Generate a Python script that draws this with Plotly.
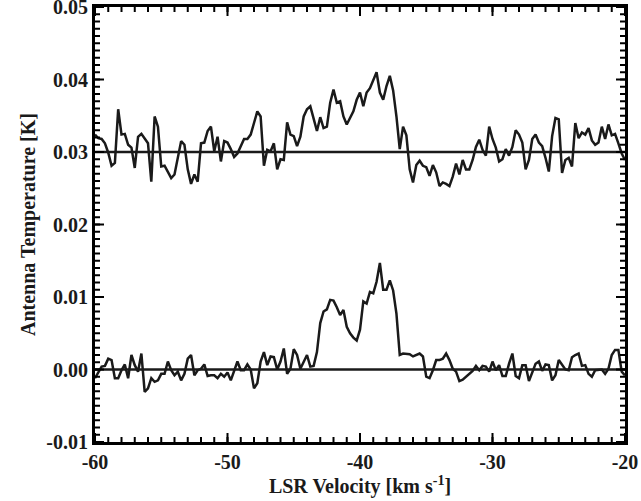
import numpy as np
import plotly.graph_objects as go

# Channel grid (LSR velocity, km/s)
V_START = -60.0
V_STEP = 0.25
N_CHAN = 161

# Upper spectrum: offsets from its baseline in mK
upper_offset_mK = [
    2.4, 1.9, 1.8, 1.2, -0.1, -1.9, -1.5, 5.9, 2.4, 2.5,
    1.0, 0.6, -2.2, 2.1, 2.5, 1.8, 1.2, -4.1, 4.9, 3.5,
    -2.0, -1.9, -2.7, -3.6, -3.1, -0.8, 1.5, 1.0, -2.4, -4.4,
    -3.1, -4.1, 1.2, 1.3, 2.9, 3.5, 0.1, 2.1, -1.3, 1.5,
    1.3, 0.4, -0.7, -0.2, 0.9, 1.8, 1.8, 2.4, 4.0, 5.6,
    4.9, -1.9, 0.3, 0.1, 1.2, -2.4, -1.0, -1.1, 4.1, 2.4,
    2.2, 0.8, 2.1, 4.9, 5.9, 6.3, 4.6, 2.9, 4.8, 3.3,
    3.5, 6.8, 8.6, 6.8, 7.0, 4.9, 3.8, 4.7, 5.6, 7.2,
    8.2, 6.3, 8.2, 8.8, 10.0, 11.0, 8.2, 7.2, 9.1, 10.5,
    8.5, 4.9, 0.4, 3.5, 2.3, -2.4, -4.2, -1.8, -1.2, -1.9,
    -2.1, -3.3, -1.8, -2.8, -4.7, -4.2, -4.4, -4.7, -3.4, -1.6,
    -3.1, -1.1, -2.4, -2.4, -1.1, 0.7, 1.7, 0.3, -0.5, 3.5,
    1.8, 0.6, -1.3, -1.0, 0.4, -0.5, 0.7, 3.0, 2.4, 1.3,
    -2.4, -1.1, 1.8, 2.4, 1.3, 0.8, -0.8, -2.7, 2.2, 4.7,
    4.5, -2.9, -1.1, -0.8, -2.0, 4.0, 1.9, 2.7, 2.4, 3.3,
    1.6, 1.0, 1.3, 3.5, 1.8, 3.8, 2.3, 2.5, 1.2, -0.2,
    -1.1,
]

# Lower spectrum in mK
lower_mK = [
    -1.2, -0.3, 0.4, 0.5, 1.5, 1.3, -1.2, -1.2, -0.1, 0.7,
    -1.2, 2.0, 0.6, -0.3, 2.2, -3.1, -2.6, -1.2, -1.7, -1.5,
    -0.6, -0.6, 1.1, -0.1, -0.8, -0.3, -1.5, -0.6, 1.5, 2.0,
    -0.8, -0.1, 0.1, 0.7, -0.9, -0.8, -0.8, -1.2, -0.6, -1.0,
    -0.4, -1.5, -0.1, 1.1, -0.1, -0.1, 0.7, 0.0, -2.6, -1.9,
    1.1, 2.4, 0.6, 1.8, 1.7, 0.0, 1.1, 2.9, -0.6, 0.1,
    2.8, 2.0, 0.1, 1.1, 2.0, 0.4, 0.5, 2.4, 6.4, 8.0,
    8.3, 9.6, 9.5, 8.6, 7.5, 8.2, 5.9, 5.0, 4.4, 4.0,
    5.5, 9.4, 9.1, 10.7, 10.5, 12.1, 14.7, 11.0, 11.0, 12.3,
    10.9, 7.7, 2.0, 2.2, 2.2, 2.1, 1.8, 2.0, 2.2, 1.8,
    -1.0, -1.2, -0.1, 1.3, 1.3, 1.5, 2.2, 1.3, 0.1, -0.3,
    -1.6, -1.4, -1.0, -0.6, -0.2, 0.5, -0.1, 0.5, 0.4, -0.3,
    1.1, -0.1, 0.6, -0.9, -0.9, 0.8, 2.2, -0.9, -1.2, 0.6,
    0.6, -1.6, -0.5, 0.8, 1.1, -0.2, 0.7, 0.6, -1.5, -0.8,
    1.3, 0.6, 0.0, -0.1, 1.7, 2.0, 2.2, 0.5, 0.6, -0.6,
    -1.0, -0.1, -0.1, 0.0, -0.6, 0.1, 2.0, 2.7, 2.7, -0.3,
    -0.8,
]

baselines = [0.03, 0.00]
x_range = [-60, -20]
y_range = [-0.01, 0.05]
x_tick_vals = [-60, -50, -40, -30, -20]
y_tick_vals = [-0.01, 0.00, 0.01, 0.02, 0.03, 0.04, 0.05]
X_MINOR_STEP = 1.0
Y_MINOR_STEP = 0.001

velocity = V_START + V_STEP * np.arange(N_CHAN)
upper = baselines[0] + np.array(upper_offset_mK) / 1000.0
lower = np.array(lower_mK) / 1000.0

LINE = "#1a1a1a"
FONT = "Liberation Serif"

# Figure geometry (used to turn tick lengths in px into axis units)
W, H = 641, 501
M_L, M_R, M_T, M_B = 95, 16, 7, 59
px_per_x = (W - M_L - M_R) / (x_range[1] - x_range[0])
px_per_y = (H - M_T - M_B) / (y_range[1] - y_range[0])
MAJOR_LEN, MINOR_LEN = 9, 5

fig = go.Figure()
for b in baselines:
    fig.add_trace(go.Scatter(x=x_range, y=[b, b], mode="lines",
                             line=dict(color=LINE, width=2.5), hoverinfo="skip"))
fig.add_trace(go.Scatter(x=velocity, y=upper, mode="lines",
                         line=dict(color=LINE, width=2.5)))
fig.add_trace(go.Scatter(x=velocity, y=lower, mode="lines",
                         line=dict(color=LINE, width=2.5)))


# Inside tick marks on all four sides (IDL style), as short line segments
def x_ticks_segments(vals, length_px):
    dy = length_px / px_per_y
    xs, ys = [], []
    for v in vals:
        xs += [v, v, None, v, v, None]
        ys += [y_range[0], y_range[0] + dy, None, y_range[1], y_range[1] - dy, None]
    return xs, ys


def y_ticks_segments(vals, length_px):
    dx = length_px / px_per_x
    xs, ys = [], []
    for v in vals:
        ys += [v, v, None, v, v, None]
        xs += [x_range[0], x_range[0] + dx, None, x_range[1], x_range[1] - dx, None]
    return xs, ys


x_minor = np.arange(x_range[0], x_range[1] + 1e-9, X_MINOR_STEP).tolist()
y_minor = np.arange(y_range[0], y_range[1] + 1e-12, Y_MINOR_STEP).tolist()

for xs, ys in (x_ticks_segments(x_minor, MINOR_LEN),
               x_ticks_segments(x_tick_vals, MAJOR_LEN),
               y_ticks_segments(y_minor, MINOR_LEN),
               y_ticks_segments(y_tick_vals, MAJOR_LEN)):
    fig.add_trace(go.Scatter(x=xs, y=ys, mode="lines", hoverinfo="skip",
                             line=dict(color="black", width=2)))

tickfont = dict(family=FONT, size=20, color=LINE)
titlefont = dict(family=FONT, size=20, color=LINE)

fig.update_xaxes(
    range=x_range, tickvals=x_tick_vals,
    ticktext=[f"<b>{v}</b>" for v in x_tick_vals],
    showgrid=False, zeroline=False, showline=True, linecolor="black", linewidth=3,
    mirror=True, ticks="", ticklabeloverflow="allow", tickfont=tickfont,
    title=dict(text="<b>LSR Velocity [km s<sup>-1</sup>]</b>", standoff=6, font=titlefont),
)
fig.update_yaxes(
    range=y_range, tickvals=y_tick_vals,
    ticktext=[f"<b>{v:.2f}</b>" for v in y_tick_vals],
    showgrid=False, zeroline=False, showline=True, linecolor="black", linewidth=3,
    mirror=True, ticks="", ticklabeloverflow="allow", tickfont=tickfont,
    title=dict(text="<b>Antenna Temperature [K]</b>", standoff=6, font=titlefont),
)

fig.update_layout(
    width=W, height=H,
    margin=dict(l=M_L, r=M_R, t=M_T, b=M_B, autoexpand=False),
    paper_bgcolor="white", plot_bgcolor="white",
    showlegend=False,
)

fig.write_html("out.html", config={"displayModeBar": False},
               post_script="document.body.style.margin='0';")
